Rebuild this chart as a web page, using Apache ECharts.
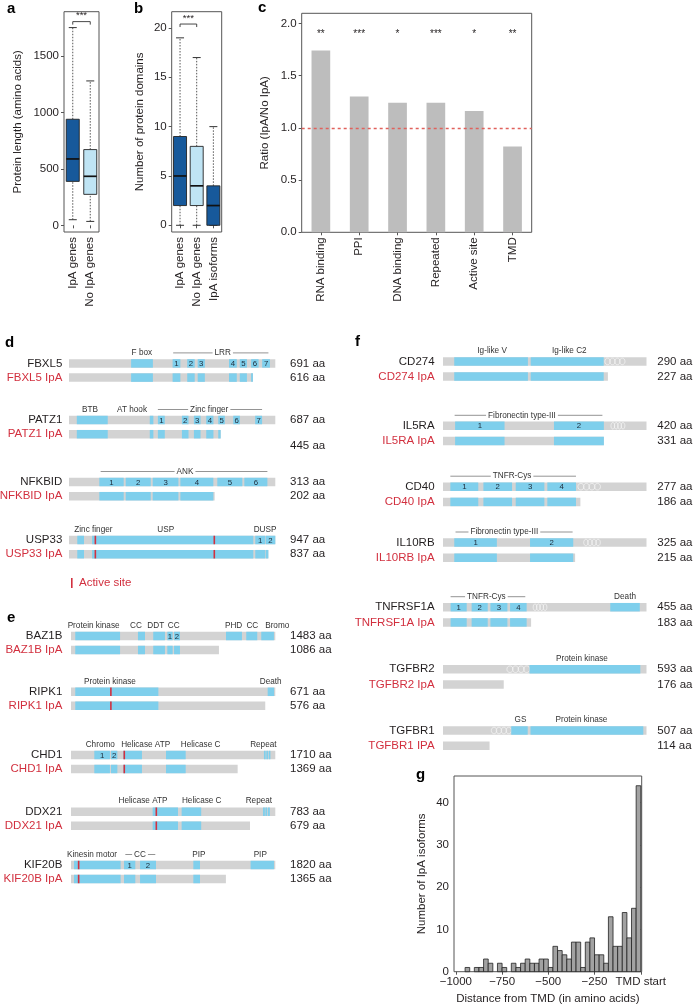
<!DOCTYPE html>
<html><head><meta charset="utf-8">
<script src="https://cdn.jsdelivr.net/npm/echarts@6/dist/echarts.min.js"></script>
<style>html,body{margin:0;padding:0;background:#fff}#c{width:693px;height:1006px}</style>
</head><body><div id="c"></div>
<script>
// ---------------- DATA ----------------
// a: protein length boxplots [min, Q1, median, Q3, max]
const lengthCats = ['IpA genes', 'No IpA genes'];
const lengthBoxes = [[50, 390, 589, 941, 1754], [35, 275, 435, 672, 1281]];
const lengthTicks = [0, 500, 1000, 1500];
const lengthBracket = [0, 1, 1807, '***'];
// b: number of protein domains
const domainCats = ['IpA genes', 'No IpA genes', 'IpA isoforms'];
const domainBoxes = [[0, 2, 5, 9, 19], [0, 2, 4, 8, 17], [0, 0, 2, 4, 10]];
const domainTicks = [0, 5, 10, 15, 20];
const domainBracket = [0, 1, 20.4, '***'];
// c: ratio IpA / No IpA
const ratioCats = ['RNA binding', 'PPI', 'DNA binding', 'Repeated', 'Active site', 'TMD'];
const ratioValues = [1.74, 1.30, 1.24, 1.24, 1.16, 0.82];
const ratioStars = ['**', '***', '*', '***', '*', '**'];
const ratioTicks = [0, 0.5, 1, 1.5, 2];
const ratioStarLevel = 1.9;
const ratioRef = 1.0;
// g: histogram, bins of 25 aa
const histBinWidth = 25;
const histBinStarts = [-1000,-975,-950,-925,-900,-875,-850,-825,-800,-775,-750,-725,-700,-675,-650,-625,-600,-575,-550,-525,
                       -500,-475,-450,-425,-400,-375,-350,-325,-300,-275,-250,-225,-200,-175,-150,-125,-100,-75,-50,-25];
const histCounts = [0,0,1,0,1,1,3,2,0,2,1,0,2,1,2,3,2,2,3,3,1,6,5,4,3,7,7,1,7,8,4,4,2,13,6,6,14,8,15,44];
const histTicks = [-1000, -750, -500, -250, 0];
const histCountTicks = [0, 10, 20, 30, 40];

// d/e/f: protein domain schematics (positions in amino acids of the full-length protein)
const geneNames = ['FBXL5','PATZ1','NFKBID','USP33','BAZ1B','RIPK1','CHD1','DDX21','KIF20B','CD274','IL5RA','CD40','IL10RB','TNFRSF1A','TGFBR2','TGFBR1'];
const isoformNames = ['FBXL5 IpA','PATZ1 IpA','NFKBID IpA','USP33 IpA','BAZ1B IpA','RIPK1 IpA','CHD1 IpA','DDX21 IpA','KIF20B IpA','CD274 IpA','IL5RA IpA','CD40 IpA','IL10RB IpA','TNFRSF1A IpA','TGFBR2 IpA','TGFBR1 IPA'];
const fullLengths = [691,687,313,947,1483,671,1710,783,1820,290,420,277,325,455,593,507];
const isoformLengths = [616,445,202,837,1086,576,1369,679,1365,227,331,186,215,183,176,114];
// end of the drawn isoform bar, on the full-length scale
const isoformDrawnEnds = [616,505,221,915,1074,638,1395,686,1380,235,332,187,211,197,177,116];
const isoformLabelOnOwnLine = ['PATZ1'];
const domains = [
  [[208,281,''],[347,373,'1'],[396,421,'2'],[431,455,'3'],[536,562,'4'],[572,596,'5'],[610,635,'6'],[647,673,'7']],
  [[26,129,''],[269,281,''],[296,319,'1'],[376,398,'2'],[416,438,'3'],[457,481,'4'],[497,519,'5'],[547,569,'6'],[620,643,'7']],
  [[46,83,'1'],[86,124,'2'],[127,166,'3'],[169,219,'4'],[225,263,'5'],[266,301,'6']],
  [[38,69,''],[106,846,''],[855,900,'1'],[903,947,'2']],
  [[31,356,''],[486,537,''],[597,682,''],[699,738,'1'],[748,791,'2'],[1125,1241,''],[1272,1352,''],[1381,1473,'']],
  [[14,287,''],[646,667,'']],
  [[195,326,'1'],[335,388,'2'],[438,594,''],[795,960,''],[1615,1629,''],[1635,1649,''],[1655,1669,'']],
  [[313,410,''],[424,499,''],[736,743,''],[745,752,''],[755,762,'']],
  [[27,442,''],[472,573,'1'],[615,757,'2'],[1090,1149,''],[1600,1808,'']],
  [[16,121,''],[125,229,'']],
  [[25,127,'1'],[229,332,'2']],
  [[10,48,'1'],[55,94,'2'],[99,138,'3'],[142,181,'4']],
  [[18,86,'1'],[139,208,'2']],
  [[17,53,'1'],[64,100,'2'],[106,144,'3'],[150,187,'4'],[374,440,'']],
  [[252,575,'']],
  [[170,211,''],[218,499,'']]
];
const transmembrane = [null,null,null,null,null,null,null,null,null,[231,259],[347,375],[184,214],[225,251],[202,232],[187,252],[121,170]];
const activeSites = [[],[],[],[121,667],[],[131],[446],[327],[68],[],[],[],[],[],[],[]];
const domainTitles = [
  [[244,'F box']],
  [[70,'BTB'],[210,'AT hook']],
  [],
  [[112,'Zinc finger'],[444,'USP'],[900,'DUSP']],
  [[164,'Protein kinase'],[472,'CC'],[615,'DDT'],[745,'CC'],[1180,'PHD'],[1316,'CC'],[1497,'Bromo']],
  [[128,'Protein kinase'],[656,'Death']],
  [[245,'Chromo'],[625,'Helicase ATP'],[1085,'Helicase C'],[1610,'Repeat']],
  [[276,'Helicase ATP'],[501,'Helicase C'],[720,'Repeat']],
  [[187,'Kinesin motor'],[1140,'PIP'],[1686,'PIP']],
  [[70,'Ig-like V'],[180,'Ig-like C2']],
  [],[],[],
  [[407,'Death']],
  [[405,'Protein kinase']],
  [[193,'GS'],[345,'Protein kinase']]
];
const domainSpans = [
  [[349,668,'LRR',515]],
  [[296,643,'Zinc finger',467]],
  [[48,301,'ANK',176]],
  [],[],[],[],[],
  [[484,751,'CC',615]],
  [],
  [[24,329,'Fibronectin type-III',163]],
  [[10,181,'TNFR-Cys',94]],
  [[20,207,'Fibronectin type-III',98]],
  [[17,184,'TNFR-Cys',97]],
  [],[]
];

// ---------------- LAYOUT / STYLE ----------------
const FONT = "'Liberation Sans', Arial, Helvetica, sans-serif";
const INK = '#231f20';
const DARK_BLUE = '#17599b';
const LIGHT_BLUE = '#bfe4f4';
const DOMAIN_BLUE = '#7fcfec';
const BAR_GRAY = '#d3d3d3';
const RED = '#d2303f';
const AXIS = '#555';

const panelOfGene = ['d','d','d','d','e','e','e','e','e','f','f','f','f','f','f','f'];
const panelLayout = {
  d: {x0: 69, x1: 275.3, gap: 14.2, nameMargin: 6.7, lenMargin: 14.7},
  e: {x0: 71, x1: 275.3, gap: 14.0, nameMargin: 8.7, lenMargin: 14.7},
  f: {x0: 443, x1: 646.5, gap: 15.2, nameMargin: 8.4, lenMargin: 10.8}
};
const rowCenters = [363.4, 420, 482, 540, 636, 691.8, 755, 811.7, 865, 361.4, 425.8, 486.7, 542.5, 607.2, 669.2, 730.5];

const grids = [], xAxes = [], yAxes = [], series = [];
function addGrid(g) {
  grids.push(Object.assign({outerBoundsMode: 'none', containLabel: false}, g));
  return grids.length - 1;
}
const tickStyle = {show: true, length: 3, lineStyle: {color: AXIS, width: 1}};
const lblStyle = {fontSize: 11.5, color: INK, fontFamily: FONT};
const plain = v => String(v);

// ---- boxplot helper (custom series)
function boxRender(colors) {
  return function (params, api) {
    const i = api.value(0);
    const c = (v) => api.coord([i, v]);
    const pMin = c(api.value(1)), pQ1 = c(api.value(2)), pMed = c(api.value(3)), pQ3 = c(api.value(4)), pMax = c(api.value(5));
    const x = pMin[0], bw = 13, cw = 8;
    const dot = {stroke: '#444', lineWidth: 0.9, lineDash: [1.5, 1.5]};
    return {type: 'group', children: [
      {type: 'line', shape: {x1: x, y1: pMin[1], x2: x, y2: pQ1[1]}, style: dot},
      {type: 'line', shape: {x1: x, y1: pQ3[1], x2: x, y2: pMax[1]}, style: dot},
      {type: 'line', shape: {x1: x - cw / 2, y1: pMin[1], x2: x + cw / 2, y2: pMin[1]}, style: {stroke: '#333', lineWidth: 1}},
      {type: 'line', shape: {x1: x - cw / 2, y1: pMax[1], x2: x + cw / 2, y2: pMax[1]}, style: {stroke: '#333', lineWidth: 1}},
      {type: 'rect', shape: {x: x - bw / 2, y: pQ3[1], width: bw, height: pQ1[1] - pQ3[1]}, style: {fill: colors[params.dataIndex], stroke: '#222', lineWidth: 0.9}},
      {type: 'line', shape: {x1: x - bw / 2, y1: pMed[1], x2: x + bw / 2, y2: pMed[1]}, style: {stroke: '#111', lineWidth: 1.7}}
    ]};
  };
}
function bracketRender(params, api) {
  const a = api.coord([api.value(0), api.value(2)]);
  const b = api.coord([api.value(1), api.value(2)]);
  return {type: 'group', children: [
    {type: 'polyline', shape: {points: [[a[0], a[1] + 3], [a[0], a[1]], [b[0], b[1]], [b[0], b[1] + 3]]}, style: {stroke: '#333', lineWidth: 0.9, fill: 'none'}},
    {type: 'text', style: {text: api.value(3), x: (a[0] + b[0]) / 2, y: a[1] - 1, align: 'center', verticalAlign: 'bottom', fontSize: 9.5, fontFamily: FONT, fill: INK}}
  ]};
}

// ---- panel a
(function () {
  const g = addGrid({left: 64, top: 11.7, width: 35, height: 220.3, show: true, borderColor: AXIS, borderWidth: 1});
  xAxes.push({gridIndex: g, type: 'category', data: lengthCats, axisLine: {show: false}, axisTick: Object.assign({alignWithLabel: true}, tickStyle),
    axisLabel: Object.assign({rotate: 90, interval: 0, margin: 5}, lblStyle)});
  yAxes.push({gridIndex: g, type: 'value', min: -59, max: 1895, splitLine: {show: false}, axisLine: {show: false},
    axisTick: Object.assign({customValues: lengthTicks}, tickStyle),
    axisLabel: Object.assign({customValues: lengthTicks, margin: 5, formatter: plain}, lblStyle),
    name: 'Protein length (amino acids)', nameLocation: 'middle', nameGap: 40, nameTextStyle: lblStyle});
  const xi = xAxes.length - 1, yi = yAxes.length - 1;
  series.push({type: 'custom', xAxisIndex: xi, yAxisIndex: yi, renderItem: boxRender([DARK_BLUE, LIGHT_BLUE]),
    data: lengthBoxes.map((b, i) => [i].concat(b)), encode: {x: 0, y: [1, 2, 3, 4, 5]}, z: 3});
  series.push({type: 'custom', xAxisIndex: xi, yAxisIndex: yi, renderItem: bracketRender, data: [lengthBracket], encode: {x: 0, y: 2}, z: 3});
})();

// ---- panel b
(function () {
  const g = addGrid({left: 171.7, top: 11.7, width: 50, height: 220.3, show: true, borderColor: AXIS, borderWidth: 1});
  xAxes.push({gridIndex: g, type: 'category', data: domainCats, axisLine: {show: false}, axisTick: Object.assign({alignWithLabel: true}, tickStyle),
    axisLabel: Object.assign({rotate: 90, interval: 0, margin: 5}, lblStyle)});
  yAxes.push({gridIndex: g, type: 'value', min: -0.68, max: 21.65, splitLine: {show: false}, axisLine: {show: false},
    axisTick: Object.assign({customValues: domainTicks}, tickStyle),
    axisLabel: Object.assign({customValues: domainTicks, margin: 5, formatter: plain}, lblStyle),
    name: 'Number of protein domains', nameLocation: 'middle', nameGap: 26, nameTextStyle: lblStyle});
  const xi = xAxes.length - 1, yi = yAxes.length - 1;
  series.push({type: 'custom', xAxisIndex: xi, yAxisIndex: yi, renderItem: boxRender([DARK_BLUE, LIGHT_BLUE, DARK_BLUE]),
    data: domainBoxes.map((b, i) => [i].concat(b)), encode: {x: 0, y: [1, 2, 3, 4, 5]}, z: 3});
  series.push({type: 'custom', xAxisIndex: xi, yAxisIndex: yi, renderItem: bracketRender, data: [domainBracket], encode: {x: 0, y: 2}, z: 3});
})();

// ---- panel c
(function () {
  const g = addGrid({left: 301.7, top: 13.3, width: 230, height: 219, show: true, borderColor: AXIS, borderWidth: 1});
  xAxes.push({gridIndex: g, type: 'category', data: ratioCats, axisLine: {show: false}, axisTick: Object.assign({alignWithLabel: true}, tickStyle),
    axisLabel: Object.assign({rotate: 90, interval: 0, margin: 5}, lblStyle)});
  yAxes.push({gridIndex: g, type: 'value', min: 0, max: 2.096, splitLine: {show: false}, axisLine: {show: false},
    axisTick: Object.assign({customValues: ratioTicks}, tickStyle),
    axisLabel: Object.assign({customValues: ratioTicks, margin: 5, formatter: v => Number(v).toFixed(1)}, lblStyle),
    name: 'Ratio (IpA/No IpA)', nameLocation: 'middle', nameGap: 31, nameTextStyle: lblStyle});
  const xi = xAxes.length - 1, yi = yAxes.length - 1;
  series.push({type: 'bar', xAxisIndex: xi, yAxisIndex: yi, data: ratioValues, barWidth: 18.7, itemStyle: {color: '#bdbdbd'},
    markLine: {silent: true, symbol: ['none', 'none'], label: {show: false}, data: [{yAxis: ratioRef}],
      lineStyle: {color: '#e0625c', type: [3, 3], width: 1.3}}});
  series.push({type: 'custom', xAxisIndex: xi, yAxisIndex: yi, data: ratioStars.map((s, i) => [i, ratioStarLevel, s]), encode: {x: 0, y: 1},
    renderItem: (params, api) => {
      const p = api.coord([api.value(0), api.value(1)]);
      return {type: 'text', style: {text: ratioStars[params.dataIndex], x: p[0], y: p[1], align: 'center', verticalAlign: 'middle', fontSize: 10, fontFamily: FONT, fill: INK}};
    }});
})();

// ---- panel g
(function () {
  const g = addGrid({left: 454, top: 776, width: 187.7, height: 195.7, show: true, borderColor: AXIS, borderWidth: 1});
  xAxes.push({gridIndex: g, type: 'value', min: -1010, max: 5, splitLine: {show: false}, axisLine: {show: false},
    axisTick: Object.assign({customValues: histTicks}, tickStyle),
    axisLabel: Object.assign({customValues: histTicks, margin: 4, formatter: v => (v === 0 ? 'TMD start' : '\u2212' + Math.abs(v))}, lblStyle),
    name: 'Distance from TMD (in amino acids)', nameLocation: 'middle', nameGap: 21, nameTextStyle: lblStyle});
  yAxes.push({gridIndex: g, type: 'value', min: 0, max: 46.3, splitLine: {show: false}, axisLine: {show: false},
    axisTick: Object.assign({customValues: histCountTicks}, tickStyle),
    axisLabel: Object.assign({customValues: histCountTicks, margin: 5, formatter: plain}, lblStyle),
    name: 'Number of IpA isoforms', nameLocation: 'middle', nameGap: 26, nameTextStyle: lblStyle});
  const xi = xAxes.length - 1, yi = yAxes.length - 1;
  series.push({type: 'custom', xAxisIndex: xi, yAxisIndex: yi, data: histBinStarts.map((s, i) => [s, histCounts[i]]), encode: {x: 0, y: 1}, z: 3,
    renderItem: (params, api) => {
      const s = api.value(0), n = api.value(1);
      if (!n) return null;
      const p0 = api.coord([s, 0]), p1 = api.coord([s + histBinWidth, n]);
      return {type: 'rect', shape: {x: p0[0], y: p1[1], width: p1[0] - p0[0], height: p0[1] - p1[1]}, style: {fill: '#a2a2a2', stroke: '#222', lineWidth: 0.8}};
    }});
})();

// ---- protein schematics
function proteinRender(i) {
  return function (params, api) {
    const ch = [];
    const bh = 8.5;
    const len = fullLengths[i], end = isoformDrawnEnds[i];
    const P = (v, row) => api.coord([v, row]);
    const rect = (a, b, row, fill) => {
      const p = P(a, row), q = P(b, row);
      return {type: 'rect', shape: {x: p[0], y: p[1] - bh / 2, width: Math.max(q[0] - p[0], 0.8), height: bh}, style: {fill: fill}};
    };
    ch.push(rect(0, len, 0, BAR_GRAY));
    ch.push(rect(0, end, 1, BAR_GRAY));
    const tm = transmembrane[i];
    if (tm) {
      const p = P(tm[0], 0), q = P(tm[1], 0);
      const n = 4, w = (q[0] - p[0]) / n;
      for (let k = 0; k < n; k++) {
        ch.push({type: 'ellipse', shape: {cx: p[0] + w * (k + 0.5), cy: p[1], rx: w * 0.55, ry: 3.3}, style: {fill: 'none', stroke: '#f7f7f7', lineWidth: 0.7}});
      }
    }
    domains[i].forEach(([a, b, t]) => {
      ch.push(rect(a, b, 0, DOMAIN_BLUE));
      if (a < end) ch.push(rect(a, Math.min(b, end), 1, DOMAIN_BLUE));
      if (t) {
        const p = P((a + b) / 2, 0);
        ch.push({type: 'text', style: {text: t, x: p[0], y: p[1] + 0.5, align: 'center', verticalAlign: 'middle', fontSize: 7.8, fontFamily: FONT, fill: '#1c2a38'}});
      }
    });
    activeSites[i].forEach(s => {
      [0, 1].forEach(row => {
        if (row === 1 && s > end) return;
        const p = P(s, row);
        ch.push({type: 'rect', shape: {x: p[0] - 0.8, y: p[1] - bh / 2, width: 1.6, height: bh}, style: {fill: RED}});
      });
    });
    domainTitles[i].forEach(([c, t]) => {
      const p = P(c, 0);
      ch.push({type: 'text', style: {text: t, x: p[0], y: p[1] - 10.5, align: 'center', verticalAlign: 'middle', fontSize: 8.2, fontFamily: FONT, fill: '#333'}});
    });
    domainSpans[i].forEach(([a, b, t, c]) => {
      const p = P(a, 0), q = P(b, 0), m = P(c, 0);
      ch.push({type: 'line', shape: {x1: p[0], y1: p[1] - 10.5, x2: q[0], y2: q[1] - 10.5}, style: {stroke: '#666', lineWidth: 0.7}});
      ch.push({type: 'text', style: {text: t, x: m[0], y: m[1] - 10.5, align: 'center', verticalAlign: 'middle', fontSize: 8.2, fontFamily: FONT, fill: '#333', backgroundColor: '#fff', padding: [0, 2]}});
    });
    if (isoformLabelOnOwnLine.indexOf(geneNames[i]) >= 0) {
      const L = panelLayout[panelOfGene[i]];
      const p = P(len, 1);
      ch.push({type: 'text', style: {text: isoformLengths[i] + ' aa', x: p[0] + L.lenMargin, y: p[1] + 12, align: 'left', verticalAlign: 'middle', fontSize: 11.5, fontFamily: FONT, fill: INK}});
    }
    return {type: 'group', children: ch};
  };
}

geneNames.forEach((gname, i) => {
  const L = panelLayout[panelOfGene[i]];
  const g = addGrid({left: L.x0, width: L.x1 - L.x0, top: rowCenters[i] - L.gap / 2, height: 2 * L.gap});
  xAxes.push({gridIndex: g, type: 'value', min: 0, max: fullLengths[i], show: false});
  const xi = xAxes.length - 1;
  yAxes.push({gridIndex: g, type: 'category', inverse: true, data: [gname, isoformNames[i]], axisLine: {show: false}, axisTick: {show: false},
    axisLabel: {margin: L.nameMargin, interval: 0, fontSize: 11.5, fontFamily: FONT,
      formatter: (v, idx) => (idx === 0 ? '{k|' + v + '}' : '{r|' + v + '}'),
      rich: {k: {color: INK, fontSize: 11.5, fontFamily: FONT}, r: {color: RED, fontSize: 11.5, fontFamily: FONT}}}});
  const yi = yAxes.length - 1;
  const isoLbl = isoformLabelOnOwnLine.indexOf(gname) >= 0 ? ' ' : isoformLengths[i] + ' aa';
  yAxes.push({gridIndex: g, type: 'category', inverse: true, position: 'right', data: [fullLengths[i] + ' aa', isoLbl],
    axisLine: {show: false}, axisTick: {show: false},
    axisLabel: {margin: L.lenMargin, interval: 0, fontSize: 11.5, fontFamily: FONT, color: INK}});
  series.push({type: 'custom', xAxisIndex: xi, yAxisIndex: yi, data: [[0, 0]], encode: {x: 0, y: 1}, renderItem: proteinRender(i), silent: true});
});

// ---- panel letters and legend
const letter = (t, x, baseline) => ({type: 'text', left: x, top: baseline - 11.5, style: {text: t, font: 'bold 15px ' + FONT, fill: '#000'}});
const graphic = [
  letter('a', 7, 13), letter('b', 134, 13), letter('c', 258, 12),
  letter('d', 5, 347), letter('e', 7, 621.5), letter('f', 355, 346), letter('g', 416, 778.5),
  {type: 'rect', left: 71, top: 578, shape: {width: 1.6, height: 10}, style: {fill: RED}},
  {type: 'text', left: 79, top: 577, style: {text: 'Active site', font: '11.5px ' + FONT, fill: RED}}
];

const chart = echarts.init(document.getElementById('c'), null, {renderer: 'canvas'});
chart.setOption({
  animation: false,
  backgroundColor: '#fff',
  textStyle: {fontFamily: FONT},
  grid: grids, xAxis: xAxes, yAxis: yAxes, series: series, graphic: graphic
});
</script>
</body></html>
